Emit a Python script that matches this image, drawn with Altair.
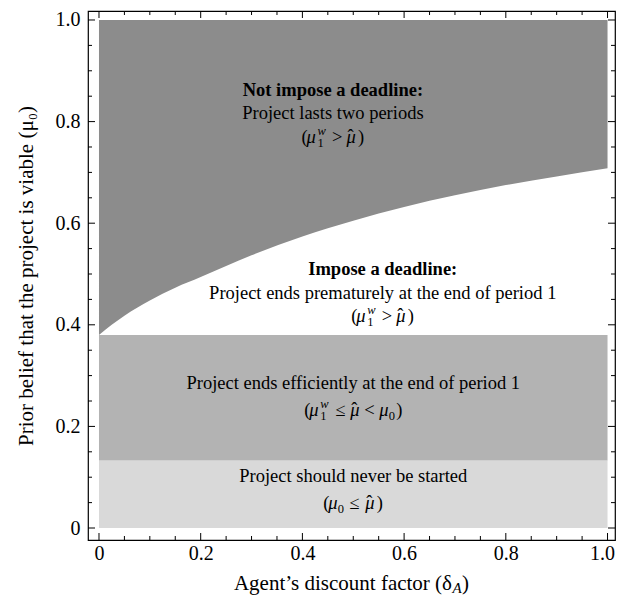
import altair as alt
import pandas as pd

# ---- data ----
curve_x = [0.0, 0.025, 0.05, 0.1, 0.15, 0.2, 0.3, 0.4, 0.5, 0.6, 0.7, 0.8, 0.9, 1.0]
curve_y = [0.380, 0.400, 0.418, 0.448, 0.473, 0.494, 0.537, 0.574, 0.605, 0.632, 0.655, 0.675, 0.692, 0.708]
region_top = 1.0

band_x_start = [0.0, 0.0]
band_x_end = [1.0, 1.0]
band_low = [0.0, 0.133]
band_high = [0.133, 0.380]
band_fill = ["#d9d9d9", "#b3b3b3"]
dark_fill = "#8c8c8c"

major_ticks = [0, 0.2, 0.4, 0.6, 0.8, 1.0]
minor_ticks = [0.05, 0.1, 0.15, 0.25, 0.3, 0.35, 0.45, 0.5, 0.55,
               0.65, 0.7, 0.75, 0.85, 0.9, 0.95]

bold_text = ["Not impose a deadline:", "Impose a deadline:"]
bold_x = [0.46, 0.558]
bold_y = [0.851, 0.498]

plain_text = [
    "Project lasts two periods",
    "Project ends prematurely at the end of period 1",
    "Project ends efficiently at the end of period 1",
    "Project should never be started",
]
plain_x = [0.46, 0.558, 0.5, 0.5]
plain_y = [0.805, 0.451, 0.274, 0.0906]

# formulas: (mu_1^w > mu_hat), (mu_1^w > mu_hat), (mu_1^w <= mu_hat < mu_0), (mu_0 <= mu_hat)
formula_x = [0.46, 0.558, 0.5, 0.5]
formula_y = [0.758, 0.406, 0.220, 0.0374]

x_title_main = "Agent\u2019s discount factor (\u03b4"
x_title_sub = "A"
x_title_close = ")"
y_title = "Prior belief that the project is viable (\u03bc\u2080)"

# ---- layout / styling ----
W, H = 527, 529
FONT = "Liberation Serif"
FS = 18.5
xs = alt.Scale(domain=[-0.0216, 1.0147], nice=False, zero=False)
ys = alt.Scale(domain=[-0.0236, 1.0177], nice=False, zero=False)
label_expr = "datum.value == 0 ? '0' : format(datum.value, '.1f')"

x_axis = alt.Axis(values=major_ticks, ticks=False, domain=False, grid=False,
                  labelExpr=label_expr, labelFont=FONT, labelFontSize=20,
                  labelColor="black", labelPadding=3, title=None,
                  labelFlush=8, labelFlushOffset=7)
y_axis = alt.Axis(values=major_ticks, ticks=False, domain=False, grid=False,
                  labelExpr=label_expr, labelFont=FONT, labelFontSize=20,
                  labelColor="black", labelPadding=8,
                  title=y_title, titleFont=FONT, titleFontSize=21,
                  titleFontWeight="normal", titleColor="black",
                  titleX=-56, titleY=H / 2, titleBaseline="alphabetic",
                  titleAngle=270)


def X(field):
    return alt.X(field, scale=xs, axis=x_axis)


def Y(field):
    return alt.Y(field, scale=ys, axis=y_axis)


bands_df = pd.DataFrame({"x0": band_x_start, "x1": band_x_end,
                         "y0": band_low, "y1": band_high, "fill": band_fill})
bands = alt.Chart(bands_df).mark_rect().encode(
    x=X("x0:Q"), x2="x1", y=Y("y0:Q"), y2="y1",
    color=alt.Color("fill:N", scale=None),
)

curve_df = pd.DataFrame({"x": curve_x, "y": curve_y})
area = alt.Chart(curve_df).mark_area(color=dark_fill, interpolate="monotone").encode(
    x=X("x:Q"), y=Y("y:Q"), y2=alt.datum(region_top),
)


def tick_layers(values, length):
    df = pd.DataFrame({"v": values})
    base = alt.Chart(df).mark_rule(color="black", strokeWidth=1)
    return [
        base.encode(x=X("v:Q"), y=alt.value(H), y2=alt.value(H - length)),
        base.encode(x=X("v:Q"), y=alt.value(0), y2=alt.value(length)),
        base.encode(y=Y("v:Q"), x=alt.value(0), x2=alt.value(length)),
        base.encode(y=Y("v:Q"), x=alt.value(W), x2=alt.value(W - length)),
    ]


ticks = tick_layers(major_ticks, 7) + tick_layers(minor_ticks, 4)

bold_df = pd.DataFrame({"x": bold_x, "y": bold_y, "t": bold_text})
plain_df = pd.DataFrame({"x": plain_x, "y": plain_y, "t": plain_text})

bold_layer = alt.Chart(bold_df).mark_text(
    font=FONT, fontSize=FS, fontWeight="bold", color="black",
    align="center", baseline="alphabetic").encode(
    x=X("x:Q"), y=Y("y:Q"), text="t:N")
plain_layer = alt.Chart(plain_df).mark_text(
    font=FONT, fontSize=FS, color="black",
    align="center", baseline="alphabetic").encode(
    x=X("x:Q"), y=Y("y:Q"), text="t:N")

# typesetting styles for formula pieces
KIND = {
    "r": dict(fontSize=FS),
    "i": dict(fontSize=FS, fontStyle="italic"),
    "sup": dict(fontSize=12.5, fontStyle="italic", dy=-8),
    "sub": dict(fontSize=12.5, dy=4),
    "hat": dict(fontSize=FS, dy=-1),
}
MU, HAT = "\u03bc", "\u02c6"
LE = "\u2264"

F_GT = ([("(", "r", 0), (MU, "i", 5), ("w", "sup", 16), ("1", "sub", 16),
         (">", "r", 30.5), (MU, "i", 45), (HAT, "hat", 46), (")", "r", 56.5)], 63)
PIECES = [
    F_GT,
    F_GT,
    ([("(", "r", 0), (MU, "i", 5), ("w", "sup", 16), ("1", "sub", 16),
      (LE, "r", 31), (MU, "i", 46), (HAT, "hat", 47), ("<", "r", 60),
      (MU, "i", 75), ("0", "sub", 84.5), (")", "r", 92)], 98),
    ([("(", "r", 0), (MU, "i", 5), ("0", "sub", 14.5), (LE, "r", 26),
      (MU, "i", 42), (HAT, "hat", 43), (")", "r", 53.5)], 60),
]

formula_layers = []
for fx, fy, (pieces, width) in zip(formula_x, formula_y, PIECES):
    for text, kind, off in pieces:
        style = dict(KIND[kind])
        dy = style.pop("dy", 0)
        df = pd.DataFrame({"x": [fx], "y": [fy], "t": [text]})
        formula_layers.append(
            alt.Chart(df).mark_text(
                font=FONT, color="black", align="left", baseline="alphabetic",
                dx=off - width / 2, dy=dy, **style
            ).encode(x=X("x:Q"), y=Y("y:Q"), text="t:N")
        )

xt1 = alt.Chart(pd.DataFrame({"t": [x_title_main]})).mark_text(
    font=FONT, fontSize=21, align="right", baseline="alphabetic", color="black"
).encode(x=alt.value(364), y=alt.value(579), text="t:N")
xt2 = alt.Chart(pd.DataFrame({"t": [x_title_sub]})).mark_text(
    font=FONT, fontSize=15, fontStyle="italic", align="left",
    baseline="alphabetic", color="black"
).encode(x=alt.value(364.5), y=alt.value(582), text="t:N")
xt3 = alt.Chart(pd.DataFrame({"t": [x_title_close]})).mark_text(
    font=FONT, fontSize=21, align="left", baseline="alphabetic", color="black"
).encode(x=alt.value(374), y=alt.value(579), text="t:N")

chart = alt.layer(
    bands, area, *ticks, bold_layer, plain_layer, *formula_layers, xt1, xt2, xt3
).properties(
    width=W, height=H,
    padding={"left": 80, "top": 3, "right": 1, "bottom": 57},
    autosize=alt.AutoSizeParams(type="none"),
).configure_view(stroke="black", strokeWidth=1.2)

chart.save("out.html", embed_options={"renderer": "svg", "actions": False})
